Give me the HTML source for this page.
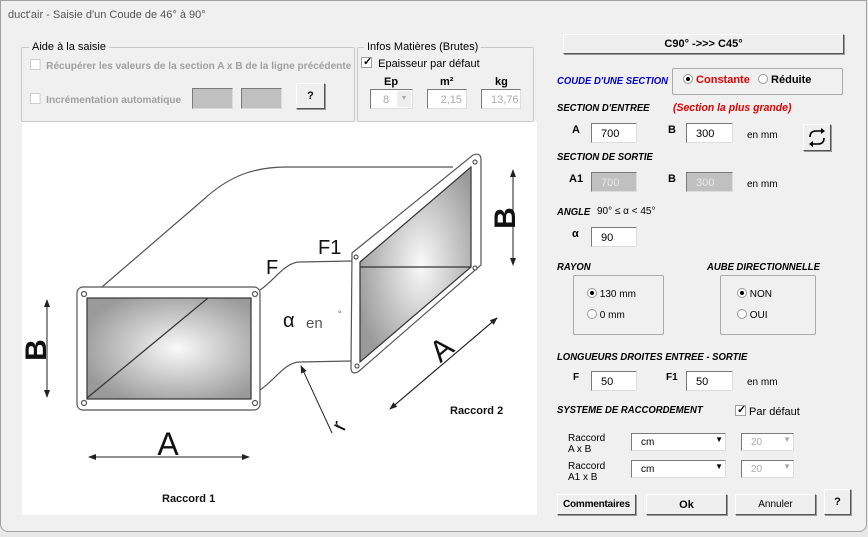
<!DOCTYPE html>
<html><head><meta charset="utf-8">
<style>
*{box-sizing:border-box;margin:0;padding:0}
body{width:868px;height:537px;background:#e8e8e8;font-family:"Liberation Sans",sans-serif;font-size:11px;color:#000;position:relative;overflow:hidden}
.a{position:absolute}
.win{left:0;top:0;width:867px;height:532px;background:#f0f0f0;border:1px solid #a0a0a0;border-radius:0 0 8px 8px}
.grp{border:1px solid #c8c8c8;border-radius:2px}
.gl{background:#f0f0f0;padding:0 3px;font-size:11px}
.cb{width:11px;height:11px;border:1px solid #a0a0a0;background:#fff;display:inline-block}
.tb{background:#fff;border:1px solid #7a7a7a;border-right-color:#ddd;border-bottom-color:#ddd;font-size:11px;padding:4px 0 0 9px}
.dis{background:#c0c0c0;color:#e8e8e8}
.btn{background:#efefef;border:1px solid #fff;border-right-color:#555;border-bottom-color:#555;box-shadow:1px 1px 0 #999;text-align:center;font-weight:bold;font-size:11px}
.h{font-weight:bold;font-style:italic;font-size:10px;transform:scaleX(0.95);transform-origin:left}
.rad{width:10px;height:10px;border-radius:50%;border:1px solid #999;background:#fff;display:inline-block;position:relative;vertical-align:-1px}
.rad.on::after{content:"";position:absolute;left:2px;top:2px;width:4px;height:4px;border-radius:50%;background:#000}
.gray{color:#a0a0a0;font-weight:bold;font-size:10.5px;white-space:nowrap}
</style></head><body>
<div class="a win"></div>
<div class="a" style="left:8px;top:9px;color:#555;font-size:11px">duct'air - Saisie d'un Coude de 46° à 90°</div>

<div class="a grp" style="left:21px;top:47px;width:334px;height:75px"></div>
<div class="a gl" style="left:29px;top:41px">Aide à la saisie</div>
<div class="a gray" style="left:30px;top:59px;transform:scaleX(0.96);transform-origin:left"><span class="cb" style="border-color:#ccc;vertical-align:-1px"></span>&nbsp; Récupérer les valeurs de la section A x B de la ligne précédente</div>
<div class="a gray" style="left:30px;top:93px;transform:scaleX(0.96);transform-origin:left"><span class="cb" style="border-color:#ccc;vertical-align:-1px"></span>&nbsp; Incrémentation automatique</div>
<div class="a tb dis" style="left:192px;top:88px;width:41px;height:21px"></div>
<div class="a tb dis" style="left:241px;top:88px;width:41px;height:21px"></div>
<div class="a btn" style="left:296px;top:83px;width:29px;height:26px;line-height:24px">?</div>

<div class="a grp" style="left:357px;top:47px;width:177px;height:75px"></div>
<div class="a gl" style="left:364px;top:41px">Infos Matières (Brutes)</div>
<div class="a" style="left:361px;top:57px"><span class="cb" style="vertical-align:-1px;position:relative"><span style="position:absolute;left:1px;top:-3px;font-size:11px;font-weight:bold">✓</span></span>&nbsp; Epaisseur par défaut</div>
<div class="a" style="left:384px;top:76px;font-weight:bold">Ep</div>
<div class="a" style="left:440px;top:76px;font-weight:bold">m²</div>
<div class="a" style="left:495px;top:76px;font-weight:bold">kg</div>
<div class="a tb" style="left:370px;top:89px;width:43px;height:20px;color:#aaa;padding-left:12px">8<span class="a" style="right:1px;top:1px;width:14px;height:16px;background:#eee;font-size:7px;text-align:center;line-height:16px">▼</span></div>
<div class="a tb" style="left:427px;top:89px;width:40px;height:20px;color:#aaa;text-align:right;padding-right:4px">2,15</div>
<div class="a tb" style="left:481px;top:89px;width:40px;height:20px;color:#aaa;text-align:right;padding-right:4px">13,76</div>

<svg class="a" style="left:22px;top:122px" width="515" height="393">
<defs>
<radialGradient id="g" cx="0.55" cy="0.5" r="0.6"><stop offset="0" stop-color="#fafafa"/><stop offset="1" stop-color="#9a9a9a"/></radialGradient>
<marker id="ar" markerWidth="8" markerHeight="6" refX="7" refY="3" orient="auto"><path d="M0,0L8,3L0,6z" fill="#222"/></marker>
</defs>
<rect width="515" height="393" fill="#fff"/>
<g transform="translate(-22,-122)" stroke="#555" fill="none" stroke-width="1.2">
<path d="M102,287 L203,200 C230,175 255,167 287,167 L453,167"/>
<path d="M260,290 C275,280 285,262 300,262 L352,261"/>
<path d="M260,390 C275,380 285,362 300,362 L352,361"/>
<rect x="77" y="287" width="183" height="123" rx="6" fill="#fff"/>
<rect x="87" y="298" width="164" height="101" fill="url(#g)" stroke="#333"/>
<line x1="87" y1="398" x2="208" y2="298" stroke="#333"/>
<path d="M352,253 L473,155 Q481,152 481,160 L481,265 L358,372 Q351,375 351,368 Z" fill="#fff"/>
<path d="M360,262 L471,167 L471,267 L360,362 Z" fill="url(#g)" stroke="#333"/>
<line x1="360" y1="267" x2="471" y2="267" stroke="#333"/>
<g fill="#fff" stroke="#555"><circle cx="84" cy="294" r="2.5"/><circle cx="255" cy="294" r="2.5"/><circle cx="84" cy="403" r="2.5"/><circle cx="255" cy="403" r="2.5"/><circle cx="356" cy="257" r="2"/><circle cx="475" cy="162" r="2"/><circle cx="475" cy="268" r="2"/><circle cx="357" cy="366" r="2"/></g>
<g stroke="#222" stroke-width="1" marker-end="url(#ar)">
<line x1="47" y1="300" x2="47" y2="397"/><line x1="47" y1="397" x2="47" y2="300"/>
<line x1="89" y1="457" x2="249" y2="457"/><line x1="249" y1="457" x2="89" y2="457"/>
<line x1="513" y1="170" x2="513" y2="265"/><line x1="513" y1="265" x2="513" y2="170"/>
<line x1="390" y1="409" x2="497" y2="318"/><line x1="497" y1="318" x2="390" y2="409"/>
<line x1="332" y1="433" x2="301" y2="366"/>
</g>
</g>
<g transform="translate(-22,-122)" font-family="Liberation Sans" fill="#111">
<text x="168" y="455" font-size="32" text-anchor="middle">A</text>
<text transform="translate(46,350) rotate(-90)" font-size="30" font-weight="bold" text-anchor="middle">B</text>
<text transform="translate(515,218) rotate(-90)" font-size="30" font-weight="bold" text-anchor="middle">B</text>
<text transform="translate(448,357) rotate(-40)" font-size="30" text-anchor="middle">A</text>
<text x="266" y="274" font-size="20">F</text>
<text x="318" y="254" font-size="20">F1</text>
<text x="283" y="327" font-size="20">α</text>
<text x="306" y="328" font-size="15" fill="#555">en</text>
<text x="338" y="317" font-size="9" fill="#555">°</text>
<text transform="translate(344,432) rotate(-65)" font-size="22">r</text>
<text x="450" y="414" font-size="11" font-weight="bold">Raccord  2</text>
<text x="162" y="502" font-size="11" font-weight="bold">Raccord 1</text>
</g>
</svg>

<div class="a btn" style="left:563px;top:34px;width:281px;height:20px;line-height:19px">C90°  ->>> C45°</div>
<div class="a h" style="left:557px;top:76px;color:#0000cc">COUDE D'UNE SECTION</div>
<div class="a grp" style="left:672px;top:68px;width:171px;height:27px;border-color:#aaa"></div>
<div class="a" style="left:683px;top:74px;color:#e00000;font-weight:bold"><span class="rad on"></span> Constante</div>
<div class="a" style="left:758px;top:74px;font-weight:bold"><span class="rad"></span> Réduite</div>
<div class="a h" style="left:557px;top:103px">SECTION D'ENTREE</div>
<div class="a h" style="left:673px;top:102px;color:#e00000;font-size:11px">(Section la plus grande)</div>
<div class="a" style="left:572px;top:124px;font-weight:bold">A</div>
<div class="a tb" style="left:591px;top:123px;width:46px;height:20px">700</div>
<div class="a" style="left:668px;top:124px;font-weight:bold">B</div>
<div class="a tb" style="left:686px;top:123px;width:47px;height:20px">300</div>
<div class="a" style="left:747px;top:130px;font-size:10px">en mm</div>
<div class="a btn" style="left:803px;top:124px;width:28px;height:27px"><svg width="26" height="25"><g fill="none" stroke="#000" stroke-width="1.6"><path d="M6,12 Q6,6 12,6 L20,6"/><path d="M20,13 Q20,19 14,19 L6,19"/></g><path d="M17,3 L21,6 L17,9z M9,16 L5,19 L9,22z" fill="#000"/></svg></div>
<div class="a h" style="left:557px;top:152px">SECTION DE SORTIE</div>
<div class="a" style="left:569px;top:173px;font-weight:bold">A1</div>
<div class="a tb dis" style="left:591px;top:172px;width:46px;height:20px">700</div>
<div class="a" style="left:668px;top:173px;font-weight:bold">B</div>
<div class="a tb dis" style="left:686px;top:172px;width:47px;height:20px">300</div>
<div class="a" style="left:747px;top:179px;font-size:10px">en mm</div>
<div class="a h" style="left:557px;top:207px">ANGLE</div>
<div class="a" style="left:597px;top:206px;font-size:10px">90° ≤ α &lt; 45°</div>
<div class="a" style="left:572px;top:228px;font-weight:bold">α</div>
<div class="a tb" style="left:591px;top:227px;width:46px;height:20px">90</div>

<div class="a h" style="left:557px;top:262px">RAYON</div>
<div class="a h" style="left:707px;top:262px">AUBE DIRECTIONNELLE</div>
<div class="a grp" style="left:573px;top:275px;width:91px;height:60px;border-color:#aaa"></div>
<div class="a" style="left:587px;top:288px;font-size:10px"><span class="rad on"></span> 130 mm</div>
<div class="a" style="left:587px;top:309px;font-size:10px"><span class="rad"></span> 0 mm</div>
<div class="a grp" style="left:720px;top:275px;width:96px;height:60px;border-color:#aaa"></div>
<div class="a" style="left:737px;top:288px;font-size:10px"><span class="rad on"></span> NON</div>
<div class="a" style="left:737px;top:309px;font-size:10px"><span class="rad"></span> OUI</div>

<div class="a h" style="left:557px;top:352px">LONGUEURS DROITES ENTREE - SORTIE</div>
<div class="a" style="left:573px;top:372px;font-weight:bold;font-size:10px">F</div>
<div class="a tb" style="left:591px;top:371px;width:46px;height:20px">50</div>
<div class="a" style="left:666px;top:372px;font-weight:bold;font-size:10px">F1</div>
<div class="a tb" style="left:686px;top:371px;width:47px;height:20px">50</div>
<div class="a" style="left:747px;top:377px;font-size:10px">en mm</div>

<div class="a h" style="left:557px;top:405px">SYSTEME DE RACCORDEMENT</div>
<div class="a" style="left:735px;top:405px"><span class="cb" style="vertical-align:-1px;position:relative"><span style="position:absolute;left:1px;top:-3px;font-size:11px;font-weight:bold">✓</span></span> Par défaut</div>
<div class="a" style="left:568px;top:433px;font-size:10px;line-height:11px">Raccord<br>A x B</div>
<div class="a tb" style="left:631px;top:433px;width:95px;height:18px;font-size:10px;padding-top:3px">cm<span class="a" style="right:2px;top:1px;font-size:8px">▼</span></div>
<div class="a tb" style="left:741px;top:433px;width:53px;height:18px;font-size:10px;color:#aaa;padding-top:3px">20<span class="a" style="right:2px;top:1px;font-size:8px">▼</span></div>
<div class="a" style="left:568px;top:461px;font-size:10px;line-height:11px">Raccord<br>A1 x B</div>
<div class="a tb" style="left:631px;top:460px;width:95px;height:18px;font-size:10px;padding-top:3px">cm<span class="a" style="right:2px;top:1px;font-size:8px">▼</span></div>
<div class="a tb" style="left:741px;top:460px;width:53px;height:18px;font-size:10px;color:#aaa;padding-top:3px">20<span class="a" style="right:2px;top:1px;font-size:8px">▼</span></div>

<div class="a btn" style="left:557px;top:494px;width:79px;height:21px;line-height:20px;font-size:10px;letter-spacing:-0.2px">Commentaires</div>
<div class="a btn" style="left:646px;top:494px;width:81px;height:21px;line-height:20px">Ok</div>
<div class="a btn" style="left:735px;top:494px;width:81px;height:21px;line-height:20px;font-weight:normal;font-size:10px">Annuler</div>
<div class="a btn" style="left:824px;top:489px;width:27px;height:26px;line-height:24px">?</div>
</body></html>
